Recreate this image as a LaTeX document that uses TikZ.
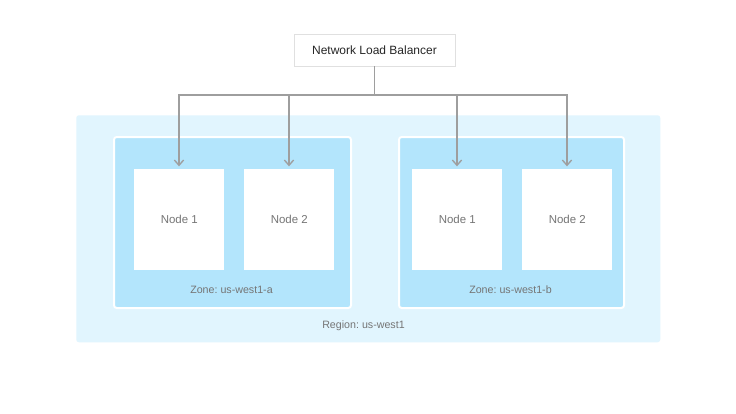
\documentclass[tikz,border=0pt]{standalone}
\usepackage{fontspec}
\setmainfont{Liberation Sans}
\usetikzlibrary{arrows.meta}
\definecolor{regionblue}{HTML}{E1F5FE}
\definecolor{zoneblue}{HTML}{B3E5FC}
\definecolor{linegray}{HTML}{9E9E9E}
\definecolor{boxgray}{HTML}{E0E0E0}
\definecolor{labelgray}{HTML}{757575}
\frenchspacing
\tikzset{
  region/.style={fill=regionblue, draw=none, rounded corners=2pt, inner sep=0pt, anchor=north west},
  zone/.style={fill=zoneblue, draw=white, line width=1.5pt, rounded corners=2pt, inner sep=0pt, anchor=north west},
  vmnode/.style={fill=white, draw=none, inner sep=0pt, anchor=north west,
    minimum width=90*0.75pt, minimum height=101*0.75pt,
    font=\fontsize{8.6}{10}\selectfont, text=labelgray},
  lbbox/.style={fill=white, draw=boxgray, line width=0.6pt, inner sep=0pt,
    minimum width=161*0.75pt, minimum height=32*0.75pt,
    font=\fontsize{9}{11}\selectfont, text=black!85},
  caption/.style={font=\fontsize{8}{10}\selectfont, text=labelgray},
  feed/.style={draw=linegray, line width=1pt, -{Straight Barb[length=4pt,width=7pt]}, shorten >=2pt},
}
\begin{document}
\begin{tikzpicture}[x=0.75pt,y=-0.75pt]
    \useasboundingbox[fill=white] (0,0) rectangle (736,414);
    % region and zones
    \node[region, minimum width=584*0.75pt, minimum height=227*0.75pt] (region) at (76,115) {};
    \node[zone, minimum width=237*0.75pt, minimum height=171*0.75pt] (zonea) at (113,136) {};
    \node[zone, minimum width=225*0.75pt, minimum height=171*0.75pt] (zoneb) at (398,136) {};
    \node[caption] (zonealabel) at (231.5,290) {Zone: us-west1-a};
    \node[caption] (zoneblabel) at (510.5,290) {Zone: us-west1-b};
    \node[caption] (regionlabel) at (363.5,326) {Region: us-west1};
    % nodes
    \node[vmnode] (a1) at (134,169) {Node 1};
    \node[vmnode] (a2) at (244,169) {Node 2};
    \node[vmnode] (b1) at (412,169) {Node 1};
    \node[vmnode] (b2) at (522,169) {Node 2};
    % load balancer
    \node[lbbox] (nlb) at (374.5,50) {Network Load Balancer};
    \coordinate (bus) at (374.5,95);
    \draw[draw=linegray, line width=1pt] (nlb.south) -- (bus);
    \foreach \n/\xx in {a1/179,a2/289,b1/457,b2/567}
        \draw[feed] (bus) -| (\xx,169);
\end{tikzpicture}
\end{document}
